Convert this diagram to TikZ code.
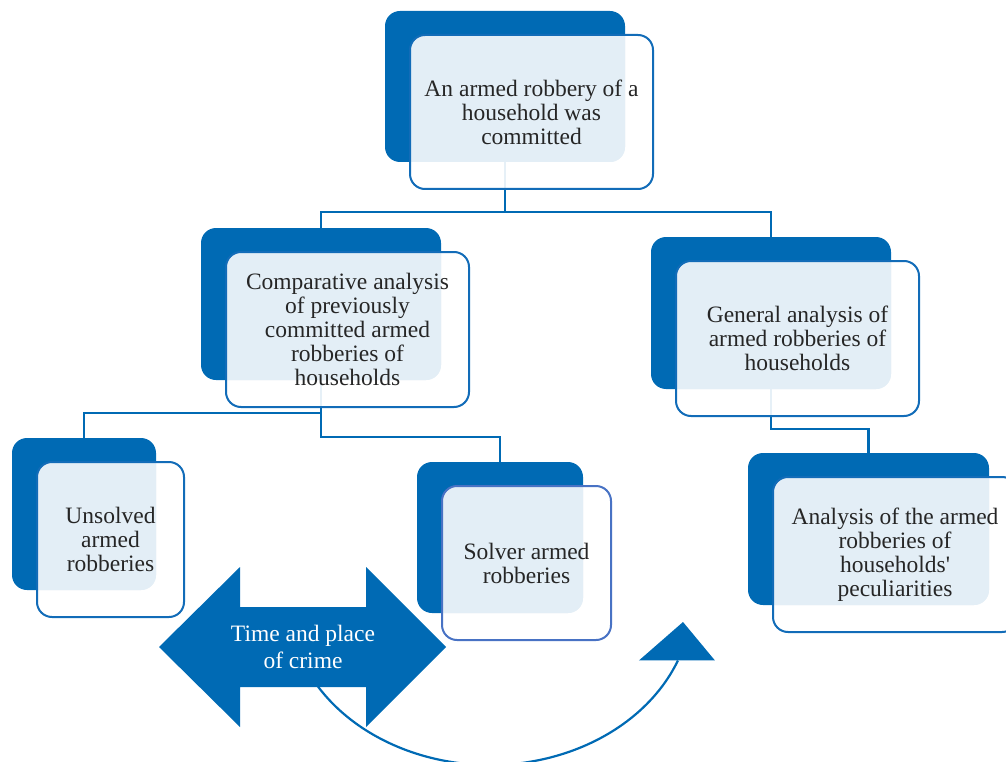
\documentclass[tikz,border=0pt]{standalone}
\usepackage{fontspec}
\setmainfont{Liberation Serif}[Ligatures=TeXOff]
\usetikzlibrary{fit,calc}
\definecolor{dkblue}{RGB}{0,106,180}
\definecolor{lightbg}{RGB}{227,238,246}
\definecolor{edgeblue}{RGB}{18,108,184}
\definecolor{edgeviolet}{RGB}{72,114,196}
\definecolor{txt}{RGB}{38,38,38}
\pgfdeclarelayer{bg}\pgfsetlayers{bg,main}
\tikzset{
 darkbox/.style={fill=dkblue, rounded corners=15pt, inner sep=0pt, draw=none},
 frontbox/.style={draw=#1, line width=2pt, rounded corners=15pt, inner sep=0pt},
 boxtext/.style={inner sep=0pt, align=center, text=txt, font=\fontsize{23.5}{24}\selectfont},
 conn/.style={draw=dkblue, line width=2.5pt},
 curveline/.style={draw=dkblue, line width=2.2pt},
 arrowtext/.style={text=white, align=center, font=\fontsize{23.5}{27.5}\selectfont},
}
\newcommand\mybox[7]{%
 \node[darkbox, fit={(#2,#3) (#4,#5)}] (#1d) {};
 \fill[white, opacity=0.9, rounded corners=15pt] ({#2+25},{#3+24}) rectangle ({#4+28},{#5+27});
 \begin{scope}
 \clip[rounded corners=15pt] (#2,#3) rectangle (#4,#5);
 \fill[lightbg, rounded corners=15pt] ({#2+25},{#3+24}) rectangle ({#4+28},{#5+27});
 \end{scope}
 \node[frontbox=#6, fit={({#2+25},{#3+24}) ({#4+28},{#5+27})}] (#1) {};
 \node[boxtext] (#1t) at (#1.center) {#7};
}
\begin{document}
\begin{tikzpicture}[x=1pt,y=-1pt]
\useasboundingbox (0,0) rectangle (1006,762);
\mybox{b1}{385}{11}{625}{162}{edgeblue}{An armed robbery of a\\household was\\committed}
\mybox{b2}{201}{228}{441}{380}{edgeblue}{Comparative analysis\\of previously\\committed armed\\robberies of\\households}
\mybox{b3}{12}{438}{156}{590}{edgeblue}{Unsolved\\armed\\robberies}
\mybox{b4}{417}{462}{583}{613}{edgeviolet}{Solver armed\\robberies}
\mybox{b5}{651}{237}{891}{389}{edgeblue}{General analysis of\\armed robberies of\\households}
\mybox{b6}{748}{453}{989}{605}{edgeblue}{Analysis of the armed\\robberies of\\households'\\peculiarities}
\begin{pgfonlayer}{bg}
\draw[conn] (b1d.south) -- ++(0,50) -| (b2d.north);
\draw[conn] (b1d.south) -- ++(0,50) -| (b5d.north);
\draw[conn] (b2d.south) -- ++(0,33) -| (b3d.north);
\draw[conn] (b2d.south) -- ++(0,57) -| (b4d.north);
\draw[conn] (b5d.south) -- ++(0,40) -| (b6d.north);
\draw[curveline] (490,600) ++(155:202 and 165) arc[start angle=155, end angle=21.5, x radius=202, y radius=165] coordinate (curveend);
\end{pgfonlayer}
\fill[dkblue] (159,647) -- (240,567) -- (240,607) -- (366,607) -- (366,567) -- (446,647) -- (366,727) -- (366,687) -- (240,687) -- (240,727) -- cycle;
\node[arrowtext] (tp) at (303,647) {Time and place\\of crime};
\fill[dkblue] ($(curveend)+(-39,0)$) -- ($(curveend)+(37,0)$) -- (683,622) -- cycle;
\end{tikzpicture}
\end{document}
